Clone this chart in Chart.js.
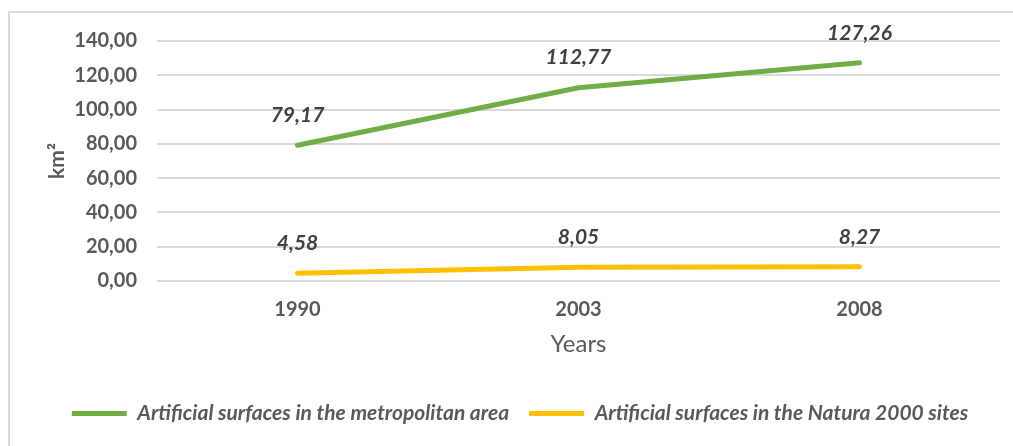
<!DOCTYPE html>
<html>
<head>
<meta charset="utf-8">
<script src="https://cdn.jsdelivr.net/npm/chart.js@4"></script>
<style>
    html, body { margin: 0; padding: 0; background: #fff; }
    #frame {
        position: absolute; left: 8px; top: 11px;
        width: 1030px; height: 460px;
        border: 2px solid #d9d9d9; box-sizing: border-box;
    }
    #wrap { position: absolute; left: 0; top: 0; width: 1013px; height: 446px; }
</style>
</head>
<body>
<div id="frame"></div>
<div id="wrap"><canvas id="chart"></canvas></div>
<script>
// ── data ──
const years = ['1990', '2003', '2008'];
const metroArea = [79.17, 112.77, 127.26];
const naturaSites = [4.58, 8.05, 8.27];
const yTicks = [0, 20, 40, 60, 80, 100, 120, 140];

const FONT = "Lato, 'Open Sans', sans-serif";
const GREY = '#595959';

const fmt = v => v.toFixed(2).replace('.', ',');

// etiquetas de valor acima dos pontos
const valueLabels = {
    id: 'valueLabels',
    afterDatasetsDraw(chart) {
        const ctx = chart.ctx;
        ctx.save();
        ctx.font = "italic bold 21px " + FONT;
        ctx.fillStyle = '#404040';
        ctx.textAlign = 'center';
        ctx.textBaseline = 'middle';
        chart.data.datasets.forEach((ds, i) => {
            chart.getDatasetMeta(i).data.forEach((pt, j) => {
                ctx.fillText(fmt(ds.data[j]), pt.x, pt.y - 30);
            });
        });
        ctx.restore();
    }
};

new Chart(document.getElementById('chart'), {
    type: 'line',
    data: {
        labels: years,
        datasets: [
            {
                label: 'Artificial surfaces in the metropolitan area',
                data: metroArea,
                borderColor: '#70ad47', backgroundColor: '#70ad47',
                borderWidth: 5, borderCapStyle: 'round', borderJoinStyle: 'round',
                pointRadius: 0, tension: 0
            },
            {
                label: 'Artificial surfaces in the Natura 2000 sites',
                data: naturaSites,
                borderColor: '#ffc000', backgroundColor: '#ffc000',
                borderWidth: 5, borderCapStyle: 'round', borderJoinStyle: 'round',
                pointRadius: 0, tension: 0
            }
        ]
    },
    options: {
        responsive: true,
        maintainAspectRatio: false,
        animation: false,
        layout: { padding: { left: 40, right: 13, top: 41, bottom: 12 } },
        plugins: {
            legend: {
                position: 'bottom',
                labels: {
                    usePointStyle: true, pointStyle: 'line', pointStyleWidth: 55,
                    color: GREY, padding: 20,
                    font: { family: FONT, size: 21, style: 'italic', weight: 'bold' }
                }
            },
            tooltip: { enabled: false }
        },
        scales: {
            x: {
                offset: true,
                grid: { display: false },
                border: { display: false },
                ticks: { color: GREY, padding: 9, font: { family: FONT, size: 20, weight: 'bold' } },
                title: { display: true, text: 'Years', color: GREY, padding: { top: 1, bottom: 27 }, font: { family: FONT, size: 24, lineHeight: 1 } }
            },
            y: {
                min: 0, max: 140,
                afterBuildTicks: axis => { axis.ticks = yTicks.map(v => ({ value: v })); },
                afterFit: axis => { axis.width = 117; },
                grid: { color: '#d9d9d9', lineWidth: 2, drawTicks: false },
                border: { display: false },
                ticks: { color: GREY, padding: 20, callback: v => fmt(v), font: { family: FONT, size: 20, weight: 'bold' } },
                title: { display: true, text: 'km²', color: GREY, padding: 5, font: { family: FONT, size: 21, weight: 'bold' } }
            }
        }
    },
    plugins: [valueLabels]
});
</script>
</body>
</html>
